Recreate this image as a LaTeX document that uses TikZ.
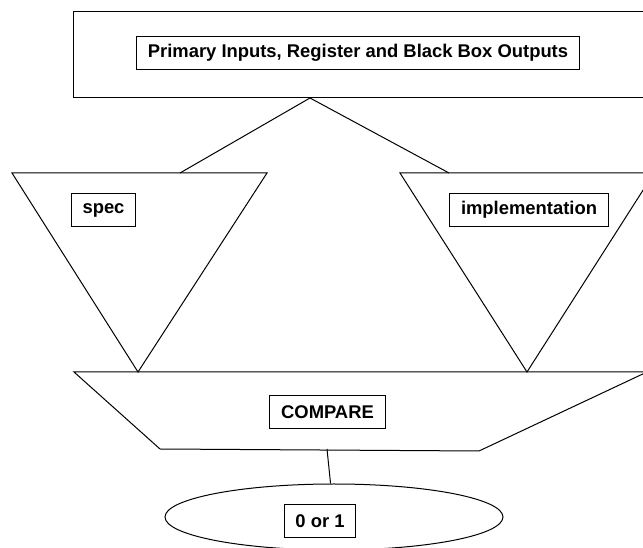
\documentclass[tikz,border=0pt]{standalone}
\usepackage{fontspec}
\setmainfont{Liberation Sans}
\usetikzlibrary{shapes.geometric}
\tikzset{
    labelbox/.style = {draw, line width=0.9pt, inner xsep=8.5pt, minimum height=25pt,
                       font=\fontsize{13.8}{16}\selectfont\bfseries},
    shell/.style    = {draw, line width=0.75pt, inner sep=0pt},
    wire/.style     = {line width=0.75pt}
}
\begin{document}
\begin{tikzpicture}[x=0.75pt, y=-0.75pt]
        \useasboundingbox (0,0) rectangle (643,548);
        \clip (0,0) rectangle (643,548);

        % --- Inputs ---
        \node[shell, minimum width=440.25pt, minimum height=64.5pt] (inputs) at (366.5,55) {};
        \node[labelbox] (inlabel) at (358,53) {Primary Inputs, Register and Black Box Outputs};
        \coordinate (split) at (310,98);

        % --- spec / implementation ---
        \coordinate (spectl) at (12,173);
        \coordinate (spectr) at (267,173);
        \coordinate (specbot) at (138,372);
        \coordinate (specin) at (180,173);
        \draw[wire] (spectl) -- (spectr) -- (specbot) -- cycle;
        \node[labelbox] (speclabel) at (103.5,210) {spec};

        \coordinate (impltl) at (400,173);
        \coordinate (impltr) at (654,173);
        \coordinate (implbot) at (527,372);
        \coordinate (implin) at (449,173);
        \draw[wire] (impltl) -- (impltr) -- (implbot) -- cycle;
        \node[labelbox] (impllabel) at (529,210) {implementation};

        \draw[wire] (split) -- (specin);
        \draw[wire] (split) -- (implin);

        % --- Compare ---
        \coordinate (cmptl) at (74,372);
        \coordinate (cmptr) at (647,372);
        \coordinate (cmpbr) at (479,451);
        \coordinate (cmpbl) at (160,449);
        \draw[wire] (cmptl) -- (cmptr) -- (cmpbr) -- (cmpbl) -- cycle;
        \node[labelbox] (cmplabel) at (327.5,412) {COMPARE};
        \coordinate (cmpout) at (327,449);

        % --- Result ---
        \node[shell, ellipse, minimum width=253.5pt, minimum height=49.5pt] (result) at (334,517) {};
        \node[labelbox] (reslabel) at (320,521) {0 or 1};

        \draw[wire] (cmpout) -- (result);
    \end{tikzpicture}
\end{document}
